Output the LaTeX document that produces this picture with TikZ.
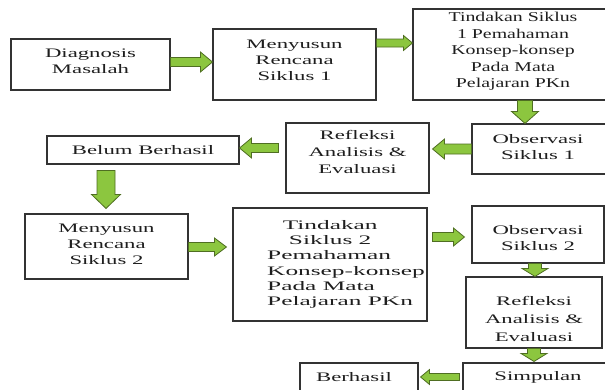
\documentclass[tikz,border=0pt]{standalone}
\usepackage{fontspec}
\setmainfont{Liberation Serif}
\newfontfamily\widefont[FakeStretch=1.75]{Liberation Serif}
\newfontfamily\narrowfont[FakeStretch=1.47]{Liberation Serif}
\newfontfamily\widerfont[FakeStretch=1.95]{Liberation Serif}
\usetikzlibrary{calc}
\definecolor{boxline}{HTML}{333333}
\definecolor{txtcol}{HTML}{1E1E1E}
\definecolor{arrgreen}{HTML}{8CC63F}
\definecolor{arrdark}{HTML}{4F6E22}
\begin{document}
\begin{tikzpicture}[x=1pt,y=-1pt,
  box/.style={draw=boxline, line width=1.1pt, fill=white, inner sep=0pt},
  txt/.style={text=txtcol, align=center, inner sep=0pt, font=\widefont\fontsize{13}{16}\selectfont},
  arrw/.store in=\arrw, arrh/.store in=\arrh, arrl/.store in=\arrl,
  arrw=4.5pt, arrh=10pt, arrl=12pt,
  barrow/.style={draw=arrdark, fill=arrgreen, line width=0.8pt, line join=miter,
    to path={($(\tikztostart)!\arrw!90:(\tikztotarget)$)
      -- ($(\tikztotarget)!\arrl!(\tikztostart)!\arrw!90:(\tikztotarget)$)
      -- ($(\tikztotarget)!\arrl!(\tikztostart)!\arrh!90:(\tikztotarget)$)
      -- (\tikztotarget)
      -- ($(\tikztotarget)!\arrl!(\tikztostart)!\arrh!-90:(\tikztotarget)$)
      -- ($(\tikztotarget)!\arrl!(\tikztostart)!\arrw!-90:(\tikztotarget)$)
      -- ($(\tikztostart)!\arrw!-90:(\tikztotarget)$) -- cycle}}]
\useasboundingbox (0,0) rectangle (605,389);
\fill[white] (0,0) rectangle (605,389);
\clip (0,0) rectangle (605,389);

% boxes
\node[box, minimum width=159pt, minimum height=51pt] (d) at (90.5,64.5) {};
\node[txt] (d-t) at (90.5,61) {Diagnosis\\Masalah};

\node[box, minimum width=163pt, minimum height=71pt] (m1) at (294.5,64.5) {};
\node[txt] (m1-t) at (294.5,60) {Menyusun\\Rencana\\Siklus 1};

\node[box, minimum width=200pt, minimum height=91pt] (t1) at (513,54.5) {};
\node[txt, font=\narrowfont\fontsize{13.5}{16.5}\selectfont] (t1-t) at (513,51.5) {Tindakan Siklus\\1 Pemahaman\\Konsep-konsep\\Pada Mata\\Pelajaran PKn};

\node[box, minimum width=134pt, minimum height=50pt] (o1) at (539,149) {};
\node[txt] (o1-t) at (538,147.5) {Observasi\\Siklus 1};

\node[box, minimum width=143pt, minimum height=70pt] (r1) at (357.5,158) {};
\node[txt, font=\widefont\fontsize{13}{17}\selectfont] (r1-t) at (357.5,152) {Refleksi\\Analisis \&\\Evaluasi};

\node[box, minimum width=192pt, minimum height=28pt] (b) at (143,150) {};
\node[txt] (b-t) at (143,150) {Belum Berhasil};

\node[box, minimum width=163pt, minimum height=65pt] (m2) at (106.5,246.5) {};
\node[txt] (m2-t) at (106.5,244) {Menyusun\\Rencana\\Siklus 2};

\node[box, minimum width=194pt, minimum height=113pt] (t2) at (330,264.5) {};
\node[txt, align=left, anchor=west, font=\widerfont\fontsize{13}{15.3}\selectfont] (t2-t) at (267,264.5)
  {\makebox[126pt]{Tindakan}\\\makebox[126pt]{Siklus 2}\\Pemahaman\\Konsep-konsep\\Pada Mata\\Pelajaran PKn};

\node[box, minimum width=132pt, minimum height=57pt] (o2) at (538,234.5) {};
\node[txt] (o2-t) at (538,238) {Observasi\\Siklus 2};

\node[box, minimum width=136pt, minimum height=71pt] (r2) at (534,312.5) {};
\node[txt, font=\widefont\fontsize{13}{18}\selectfont] (r2-t) at (534,319) {Refleksi\\Analisis \&\\Evaluasi};

\node[box, minimum width=150pt, minimum height=34pt] (s) at (538,380) {};
\node[txt] (s-t) at (538,377) {Simpulan};

\node[box, minimum width=118pt, minimum height=34pt] (be) at (359,380) {};
\node[txt] (be-t) at (354,377) {Berhasil};

% block arrows
\draw[barrow] (d.east |- 0,62) to (m1.west |- 0,62);
\draw[barrow, arrw=4pt, arrh=7.5pt, arrl=9pt] (m1.east |- 0,43) to (t1.west |- 0,43);
\draw[barrow, arrw=7.5pt, arrh=13.5pt, arrl=12pt] (t1.south -| 525,0) to (o1.north -| 525,0);
\draw[barrow, arrw=5pt] (o1.west |- 0,149) to ([xshift=3pt]r1.east |- 0,149);
\draw[barrow] ([xshift=-7pt]r1.west |- 0,148) to (b.east |- 0,148);
\draw[barrow, arrw=9pt, arrh=14.5pt, arrl=14pt] ([yshift=-6pt]b.south -| 106,0) to ([yshift=5pt]m2.north -| 106,0);
\draw[barrow, arrh=9pt] (m2.east |- 0,247) to ([xshift=-6pt]t2.west |- 0,247);
\draw[barrow, arrh=9pt, arrl=11pt] ([xshift=5pt]t2.east |- 0,237) to ([xshift=-7pt]o2.west |- 0,237);
\draw[barrow, arrw=6.5pt, arrh=13pt, arrl=8pt] (o2.south -| 535,0) to (r2.north -| 535,0);
\draw[barrow, arrw=6.5pt, arrh=13pt, arrl=8pt] (r2.south -| 534,0) to ([yshift=1pt]s.north -| 534,0);
\draw[barrow, arrw=3.5pt, arrh=7.5pt, arrl=9pt] ([xshift=-3pt]s.west |- 0,377) to ([xshift=2pt]be.east |- 0,377);
\end{tikzpicture}
\end{document}
